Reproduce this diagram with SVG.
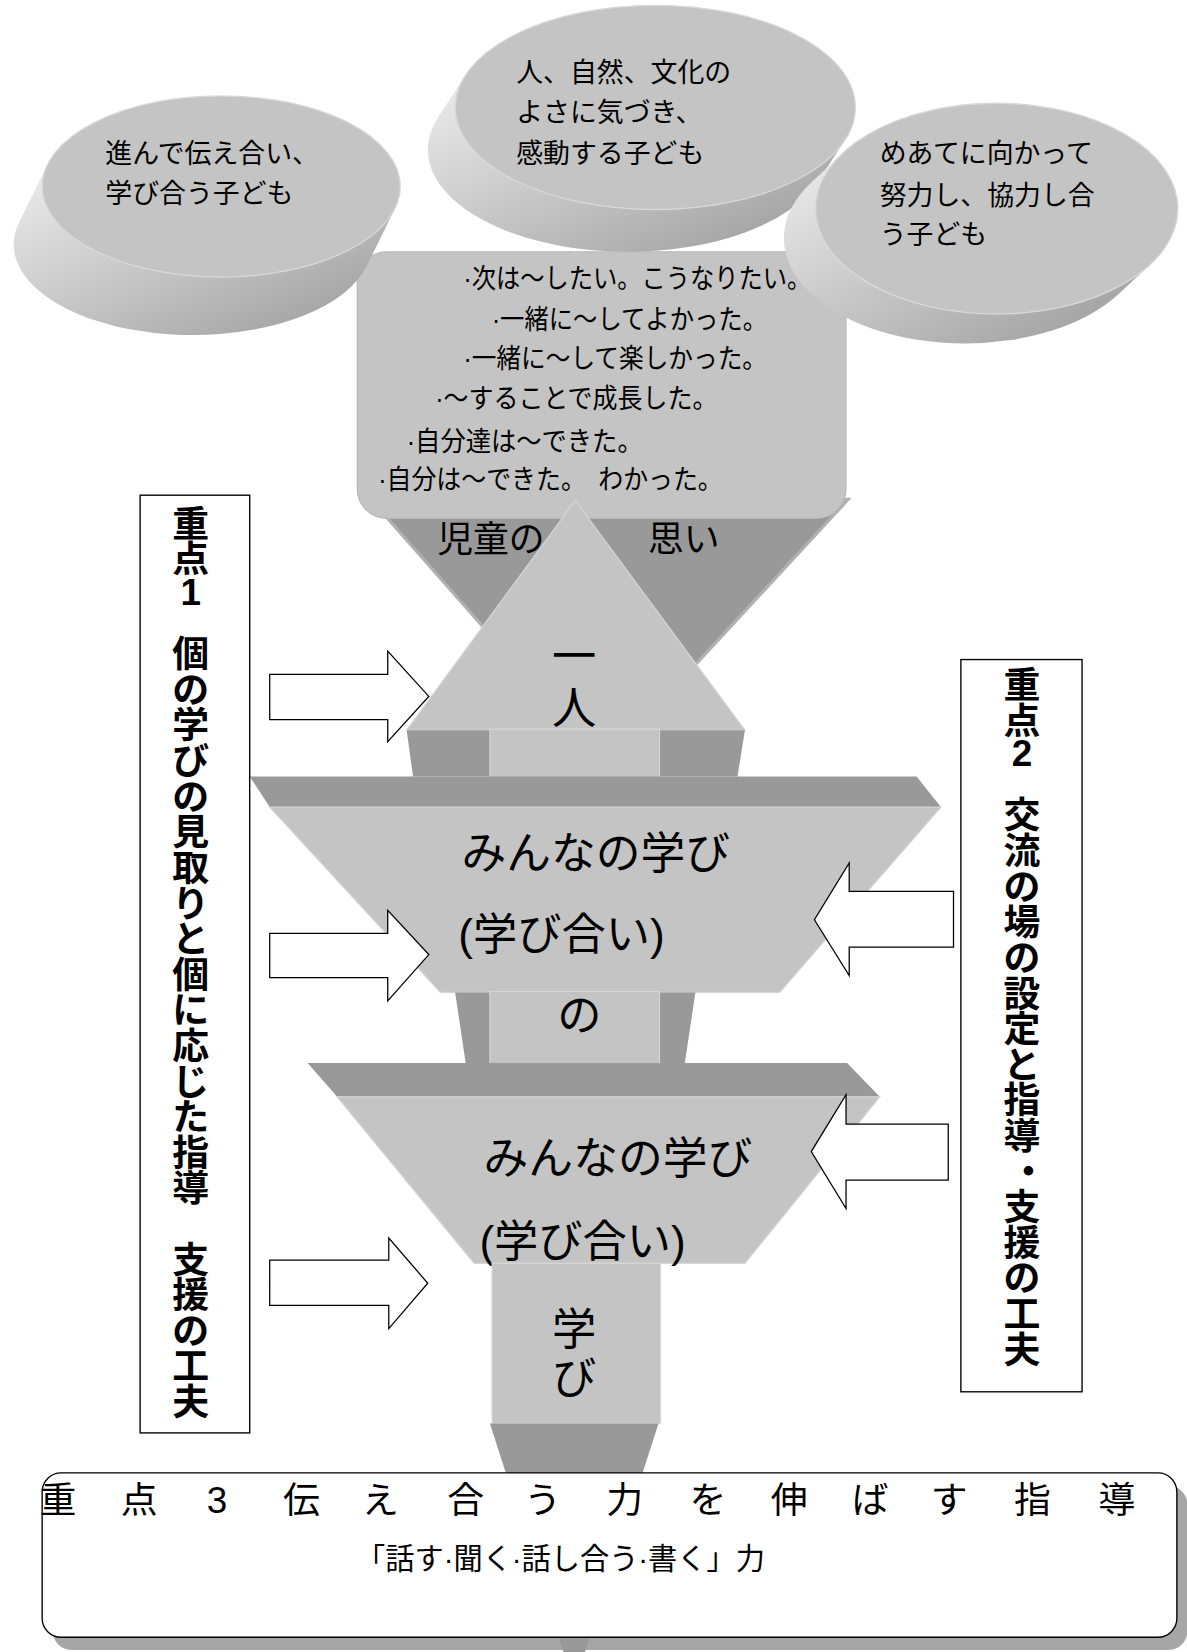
<svg xmlns="http://www.w3.org/2000/svg" width="1187" height="1652" viewBox="0 0 1187 1652">
<defs>
<style>
.face{fill:#c4c4c4;stroke:#d4d4d4;stroke-width:1.2}
.col{fill:#c4c4c4;stroke:#d8d8d8;stroke-width:1}
.dark{fill:#999999}
.disc{fill:#c4c4c4;stroke:#d9d9d9;stroke-width:1.2}
.t{font-family:'Liberation Sans','Noto Sans CJK JP',sans-serif;fill:#000}
.wbox{fill:#fff;stroke:#000;stroke-width:1.3}
.arr{fill:#fff;stroke:#000;stroke-width:1.2;stroke-linejoin:miter}
</style>
<linearGradient id="side" x1="0" y1="0.2" x2="0.85" y2="1">
<stop offset="0" stop-color="#e6e6e6"/>
<stop offset="0.5" stop-color="#c3c3c3"/>
<stop offset="1" stop-color="#9f9f9f"/>
</linearGradient>
</defs>
<rect width="1187" height="1652" fill="#fff"/>
<g transform="scale(1.0536)">

<g id="node-omoi">
<polygon points="352,474 805,474 573,725" class="dark" stroke="#b0b0b0" stroke-width="3"/>
<rect x="339" y="239" width="464" height="253" rx="28" fill="#c4c4c4" stroke="#b8b8b8" stroke-width="1"/>
<text class="t" x="415" y="524" font-size="34">児童の</text>
<text class="t" x="615" y="524" font-size="34">思い</text>
</g>

<g id="node-goal1">
<path d="M375,197.7 L348,252.7 A170,86 0 0 1 183,318 A170,86 0 0 1 18,211.3 L45,156.3 Z" fill="url(#side)"/>
<ellipse cx="210" cy="177" rx="170" ry="86" class="disc"/>
<text class="t" font-size="25.5"><tspan x="100" y="154.7">進んで伝え合い、</tspan><tspan x="100" y="192.7">学び合う子ども</tspan></text>
</g>

<g id="node-goal2">
<path d="M802.3,132.5 L776.3,172.5 A190,97 0 0 1 596,239 A190,97 0 0 1 415.7,111.5 L441.7,71.5 Z" fill="url(#side)"/>
<ellipse cx="622" cy="102" rx="190" ry="97" class="disc"/>
<text class="t" font-size="25.5"><tspan x="490" y="77.7">人、自然、文化の</tspan><tspan x="490" y="115.7">よさに気づき、</tspan><tspan x="490" y="154.7">感動する子ども</tspan></text>
</g>

<g id="node-goal3">
<path d="M1092,250.9 L1062,278.9 A172,100 0 0 1 916,326 A172,100 0 0 1 770,173.1 L800,145.1 Z" fill="url(#side)"/>
<ellipse cx="946" cy="198" rx="172" ry="100" class="disc"/>
<text class="t" font-size="25.5"><tspan x="835" y="154.7">めあてに向かって</tspan><tspan x="835" y="194.7">努力し、協力し合</tspan><tspan x="835" y="231.7">う子ども</tspan></text>
</g>

<g id="node-omoi-text">
<text class="t" font-size="26" x="440" y="273" textLength="330" lengthAdjust="spacingAndGlyphs">·次は～したい。こうなりたい。</text>
<text class="t" font-size="26" x="467" y="312" textLength="261" lengthAdjust="spacingAndGlyphs">·一緒に～してよかった。</text>
<text class="t" font-size="26" x="440" y="349" textLength="288" lengthAdjust="spacingAndGlyphs">·一緒に～して楽しかった。</text>
<text class="t" font-size="26" x="413" y="387" textLength="268" lengthAdjust="spacingAndGlyphs">·～することで成長した。</text>
<text class="t" font-size="26" x="386" y="428" textLength="224" lengthAdjust="spacingAndGlyphs">·自分達は～できた。</text>
<text class="t" font-size="26" x="359" y="464" textLength="327" lengthAdjust="spacingAndGlyphs">·自分は～できた。　わかった。</text>
</g>

<g id="node-hitori">
<polygon points="546,475 386,693 707,693" class="face"/>
<polygon points="386,693 465,693 465,737 392,737" class="dark"/>
<polygon points="626,693 707,693 700,737 626,737" class="dark"/>
<rect x="465" y="692" width="161" height="46" class="col"/>
<text class="t" font-size="42" x="545 545" y="638 687" text-anchor="middle">一人</text>
</g>

<g id="node-minna1">
<polygon points="237,737 870,737 893,766 256,766" class="dark"/>
<polygon points="256,766 893,766 740,942 418,942" class="face"/>
<text class="t" font-size="42.5" x="438" y="825">みんなの学び</text>
<text class="t" font-size="42" x="435" y="902">(学び合い)</text>
</g>

<g id="node-no">
<polygon points="432,942 465,942 465,1009 442,1009" class="dark"/>
<polygon points="626,942 660,942 650,1009 626,1009" class="dark"/>
<rect x="465" y="941" width="161" height="69" class="col"/>
<text class="t" font-size="42" x="550" y="979" text-anchor="middle">の</text>
</g>

<g id="node-minna2">
<polygon points="292,1009 804,1009 835,1041 320,1041" class="dark"/>
<polygon points="320,1041 835,1041 707,1199 450,1199" class="face"/>
<text class="t" font-size="42.5" x="459" y="1114">みんなの学び</text>
<text class="t" font-size="42" x="455" y="1193">(学び合い)</text>
</g>

<rect id="juten3-shadow" x="50" y="1410" width="1077" height="156" rx="18" fill="#a6a6a6"/>

<g id="node-manabi">
<rect x="467" y="1199" width="160" height="152" class="col"/>
<polygon points="465,1351 625,1351 545,1600" class="dark"/>
<text class="t" font-size="42" x="545 545" y="1277 1323" text-anchor="middle">学び</text>
</g>

<g id="node-juten3">
<rect x="40" y="1398" width="1077" height="156" rx="18" class="wbox" stroke-width="1.5"/>
<text class="t" font-size="35" x="55 132 206 286 361 442 515 593 672 749 826 901 980 1060" y="1436" text-anchor="middle">重点3伝え合う力を伸ばす指導</text>
<text class="t" font-size="28" x="338" y="1489" textLength="388" lengthAdjust="spacingAndGlyphs">「話す·聞く·話し合う·書く」力</text>
</g>

<g id="node-juten1">
<rect x="133" y="470" width="104" height="890" class="wbox"/>
<text class="t" font-size="35" font-weight="700" text-anchor="middle" x="181 181 181 181 181 181 181 181 181 181 181 181 181 181 181 181 181 181 181 181 181 181 181 181 181 181" y="509.3 543.3 574.3 603.3 633.3 667.1 700.9 734.7 768.5 802.3 836.1 869.9 903.7 937.5 971.3 1005.1 1038.9 1072.7 1106.5 1140.3 1174.1 1207.9 1241.7 1275.5 1309.3 1343.1">重点1　個の学びの見取りと個に応じた指導　支援の工夫</text>
</g>

<g id="node-juten2">
<rect x="912" y="626" width="115" height="695" class="wbox"/>
<text class="t" font-size="35" font-weight="700" text-anchor="middle" x="970 970 970 970 970 970 970 970 970 970 970 970 970 970 976 970 970 970 970 970" y="662.3 696.3 727.3 756.3 786.3 820.1 853.9 887.7 921.5 955.3 989.1 1022.9 1056.7 1090.5 1124.3 1158.1 1191.9 1225.7 1259.5 1293.3">重点2　交流の場の設定と指導・支援の工夫</text>
</g>

<g id="connectors">
<polygon class="arr" points="256,640 368,640 368,618 407,661 368,704 368,683 256,683"/>
<polygon class="arr" points="256,886 368,886 368,864 407,906 368,950 368,928 256,928"/>
<polygon class="arr" points="256,1196 369,1196 369,1175 406,1218 369,1261 369,1239 256,1239"/>
<polygon class="arr" points="905,846 806,846 806,819 773,873 806,926 806,899 905,899"/>
<polygon class="arr" points="900,1067 803,1067 803,1039 770,1093 803,1147 803,1120 900,1120"/>
</g>

</g>
</svg>
